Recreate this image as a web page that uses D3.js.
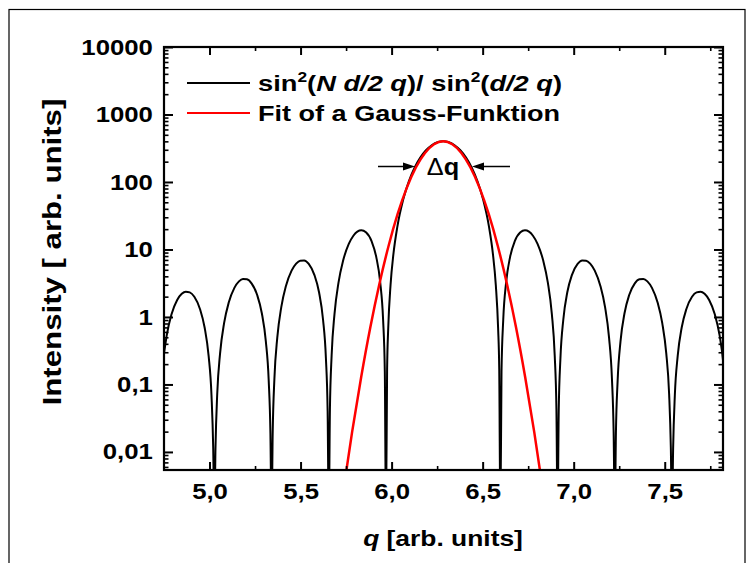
<!DOCTYPE html>
<html><head><meta charset="utf-8">
<script src="https://cdn.jsdelivr.net/npm/d3@7"></script>
<style>
body{margin:0;background:#fff;}
svg{display:block;}
text{font-family:"Liberation Sans",Arial,sans-serif;font-weight:bold;fill:#000;}
</style>
</head><body>
<svg id="chart" width="750" height="563"></svg>
<script>
// ---- data ----
const qValues = [
 4.7187,4.7281,4.7438,4.7658,4.7909,4.8223,4.8475,4.8695,4.8915,4.9166,4.9480,4.9731,4.9951,5.0108,5.0203,
 5.0265,
 5.0328,5.0423,5.0580,5.0800,5.1051,5.1365,5.1616,5.1836,5.2056,5.2308,5.2622,5.2873,5.3093,5.3250,5.3344,
 5.3407,
 5.3470,5.3564,5.3721,5.3941,5.4192,5.4507,5.4758,5.4978,5.5198,5.5449,5.5763,5.6015,5.6235,5.6392,5.6486,
 5.6549,
 5.6612,5.6706,5.6863,5.7083,5.7334,5.7648,5.7900,5.8119,5.8339,5.8591,5.8905,5.9156,5.9376,5.9533,5.9627,
 5.9690,
 5.9753,5.9816,5.9942,6.0099,6.0319,6.0633,6.0947,6.1261,6.1575,6.1889,6.2204,6.2518,6.2832,
 6.3146,6.3460,6.3774,6.4088,6.4403,6.4717,6.5031,6.5345,6.5565,6.5722,6.5848,6.5911,
 6.5973,
 6.6036,6.6131,6.6288,6.6508,6.6759,6.7073,6.7324,6.7544,6.7764,6.8015,6.8330,6.8581,6.8801,6.8958,6.9052,
 6.9115,
 6.9178,6.9272,6.9429,6.9649,6.9900,7.0215,7.0466,7.0686,7.0906,7.1157,7.1471,7.1723,7.1942,7.2100,7.2194,
 7.2257,
 7.2319,7.2414,7.2571,7.2791,7.3042,7.3356,7.3608,7.3827,7.4047,7.4299,7.4613,7.4864,7.5084,7.5241,7.5335,
 7.5398,
 7.5461,7.5555,7.5712,7.5932,7.6184,7.6498,7.6749,7.6969,7.7189,7.7440,7.7754,7.8006,7.8226,7.8383,7.8477
];
const intensityValues = [
 0.0079,0.0497,0.197,0.547,1.085,1.784,2.201,2.371,2.316,1.990,1.304,0.698,0.265,0.0693,0.0113,
 0.001,
 0.0115,0.0724,0.289,0.809,1.620,2.698,3.368,3.663,3.618,3.147,2.094,1.136,0.436,0.115,0.0189,
 0.001,
 0.0194,0.1225,0.493,1.401,2.853,4.856,6.172,6.828,6.864,6.099,4.174,2.319,0.910,0.244,0.0405,
 0.001,
 0.0421,0.269,1.104,3.224,6.786,12.09,15.98,18.35,19.20,17.92,13.14,7.759,3.230,0.908,0.155,
 0.001,
 0.168,0.696,2.982,8.50,22.0,54.4,102.1,162.5,229.4,295.0,350.2,387.1,400,
 387.1,350.2,295.0,229.4,162.5,102.1,54.4,22.0,8.50,2.982,0.696,0.168,
 0.001,
 0.155,0.908,3.230,7.759,13.14,17.92,19.20,18.35,15.98,12.09,6.786,3.224,1.104,0.269,0.0421,
 0.001,
 0.0405,0.244,0.910,2.319,4.174,6.099,6.864,6.828,6.172,4.856,2.853,1.401,0.493,0.1225,0.0194,
 0.001,
 0.0189,0.115,0.436,1.136,2.094,3.147,3.618,3.663,3.368,2.698,1.620,0.809,0.289,0.0724,0.0115,
 0.001,
 0.0113,0.0693,0.265,0.698,1.304,1.990,2.316,2.371,2.201,1.784,1.085,0.547,0.197,0.0497,0.0079
];
const gaussQ = [5.7332,5.7832,5.8332,5.8832,5.9332,5.9832,6.0332,6.0832,6.1332,6.1832,6.2332,6.2832,
                6.3332,6.3832,6.4332,6.4832,6.5332,6.5832,6.6332,6.6832,6.7332,6.7832,6.8332];
const gaussValues = [0.00247,0.0198,0.130,0.703,3.107,11.27,33.56,81.9,163.9,269.1,362.3,400,
                     362.3,269.1,163.9,81.9,33.56,11.27,3.107,0.703,0.130,0.0198,0.00247];

const xDomain = [4.75, 7.82];
const yDomain = [0.0054, 10000];
const xTickValues = [5.0, 5.5, 6.0, 6.5, 7.0, 7.5];
const xTickLabels = ["5,0", "5,5", "6,0", "6,5", "7,0", "7,5"];
const xMinorTicks = [5.25, 5.75, 6.25, 6.75, 7.25, 7.75];
const yTickValues = [0.01, 0.1, 1, 10, 100, 1000, 10000];
const yTickLabels = ["0,01", "0,1", "1", "10", "100", "1000", "10000"];
const seriesNames = ["sin2(N d/2 q)/ sin2(d/2 q)", "Fit of a Gauss-Funktion"];
const seriesColors = ["#000000", "#ff0000"];

// ---- layout ----
const M = {left:164, right:723, top:47, bottom:470};
const svg = d3.select("#chart");
const x = d3.scaleLinear().domain(xDomain).range([M.left, M.right]);
const y = d3.scaleLog().domain(yDomain).range([M.bottom, M.top]);
const SX = 1.17;

// outer border
svg.append("rect").attr("x",9).attr("y",9.5).attr("width",736).attr("height",580)
  .attr("fill","none").attr("stroke","#000").attr("stroke-width",1.2);

svg.append("clipPath").attr("id","clip").append("rect")
  .attr("x",M.left).attr("y",M.top).attr("width",M.right-M.left).attr("height",M.bottom-M.top);

// curves
const blackData = qValues.map((q,i)=>[q,intensityValues[i]]);
const gaussData = gaussQ.map((q,i)=>[q,gaussValues[i]]);
const line = d3.line().x(d=>x(d[0])).y(d=>y(d[1])).curve(d3.curveMonotoneX);
const plot = svg.append("g").attr("clip-path","url(#clip)");
plot.append("path").datum(blackData).attr("d",line).attr("fill","none")
  .attr("stroke",seriesColors[0]).attr("stroke-width",2).attr("stroke-linejoin","round");
plot.append("path").datum(gaussData).attr("d",line).attr("fill","none")
  .attr("stroke",seriesColors[1]).attr("stroke-width",2.5).attr("stroke-linejoin","round");

// axes
function styleAxis(g, w){
  g.select(".domain").remove();
  g.selectAll(".tick line").attr("stroke","#000").attr("stroke-width",w);
}
const minorY = y.ticks().filter(v => yTickValues.indexOf(v) < 0 && v >= yDomain[0]);

const gxb = svg.append("g").attr("transform",`translate(0,${M.bottom})`)
  .call(d3.axisBottom(x).tickValues(xTickValues).tickFormat((d,i)=>xTickLabels[i])
        .tickSizeInner(-8).tickSizeOuter(0).tickPadding(13));
styleAxis(gxb,2);
gxb.selectAll("text").attr("font-size",22).attr("font-family","Liberation Sans, Arial, sans-serif")
  .attr("font-weight","bold").attr("transform",`scale(${SX},1)`);
styleAxis(svg.append("g").attr("transform",`translate(0,${M.bottom})`)
  .call(d3.axisBottom(x).tickValues(xMinorTicks).tickFormat("").tickSizeInner(-4).tickSizeOuter(0)),1.6);
styleAxis(svg.append("g").attr("transform",`translate(0,${M.top})`)
  .call(d3.axisTop(x).tickValues(xTickValues).tickFormat("").tickSizeInner(-8).tickSizeOuter(0)),2);
styleAxis(svg.append("g").attr("transform",`translate(0,${M.top})`)
  .call(d3.axisTop(x).tickValues(xMinorTicks).tickFormat("").tickSizeInner(-4).tickSizeOuter(0)),1.6);

const gyl = svg.append("g").attr("transform",`translate(${M.left},0)`)
  .call(d3.axisLeft(y).tickValues(yTickValues).tickFormat((d,i)=>yTickLabels[i])
        .tickSizeInner(-9).tickSizeOuter(0).tickPadding(9.5));
styleAxis(gyl,2);
gyl.selectAll("text").attr("font-size",22).attr("font-family","Liberation Sans, Arial, sans-serif")
  .attr("font-weight","bold").attr("transform",`scale(${SX},1)`);
styleAxis(svg.append("g").attr("transform",`translate(${M.left},0)`)
  .call(d3.axisLeft(y).tickValues(minorY).tickFormat("").tickSizeInner(-4.5).tickSizeOuter(0)),1.6);
styleAxis(svg.append("g").attr("transform",`translate(${M.right},0)`)
  .call(d3.axisRight(y).tickValues(yTickValues).tickFormat("").tickSizeInner(-9).tickSizeOuter(0)),2);
styleAxis(svg.append("g").attr("transform",`translate(${M.right},0)`)
  .call(d3.axisRight(y).tickValues(minorY).tickFormat("").tickSizeInner(-4.5).tickSizeOuter(0)),1.6);

// frame
svg.append("rect").attr("x",M.left).attr("y",M.top).attr("width",M.right-M.left).attr("height",M.bottom-M.top)
  .attr("fill","none").attr("stroke","#000").attr("stroke-width",2.2);

// axis titles
const xt = svg.append("text").attr("text-anchor","middle").attr("font-size",22)
  .attr("transform","translate(443,546) scale(1.2,1)");
xt.append("tspan").attr("font-style","italic").text("q");
xt.append("tspan").text(" [arb. units]");
svg.append("text").attr("text-anchor","middle").attr("font-size",26)
  .attr("transform","translate(61,252) rotate(-90) scale(1.2,1)")
  .text("Intensity [ arb. units]");

// legend
const legRows = [83, 113];
legRows.forEach((ly,i)=>{
  svg.append("line").attr("x1",187).attr("x2",250).attr("y1",ly).attr("y2",ly)
    .attr("stroke",seriesColors[i]).attr("stroke-width",2);
});
const t1 = svg.append("text").attr("font-size",22).attr("transform","translate(258,91) scale(1.24,1)");
function part(t, s, opt={}){
  const ts = t.append("tspan").text(s);
  if(opt.it) ts.attr("font-style","italic");
  if(opt.sup) ts.attr("font-size",14).attr("dy",-9);
  if(opt.down) ts.attr("dy",9);
  return ts;
}
part(t1,"sin"); part(t1,"2",{sup:true}); part(t1,"(",{down:true}); part(t1,"N d/2 q",{it:true});
part(t1,")/ sin"); part(t1,"2",{sup:true}); part(t1,"(",{down:true}); part(t1,"d/2 q",{it:true});
part(t1,")");
svg.append("text").attr("font-size",22).attr("transform","translate(258,121) scale(1.23,1)")
  .text(seriesNames[1]);

// annotation
const an = svg.append("text").attr("font-size",23).attr("text-anchor","middle")
  .attr("transform","translate(443,175) scale(1.1,1)");
an.append("tspan").attr("font-weight","normal").text("\u0394");
an.append("tspan").text("q");
const ay = 166.5;
svg.append("line").attr("x1",378).attr("x2",406).attr("y1",ay).attr("y2",ay).attr("stroke","#000").attr("stroke-width",1.5);
svg.append("path").attr("d",`M415,${ay} L403,${ay-4} L403,${ay+4} Z`).attr("fill","#000");
svg.append("line").attr("x1",481).attr("x2",510).attr("y1",ay).attr("y2",ay).attr("stroke","#000").attr("stroke-width",1.5);
svg.append("path").attr("d",`M472,${ay} L484,${ay-4} L484,${ay+4} Z`).attr("fill","#000");
</script>
</body></html>
